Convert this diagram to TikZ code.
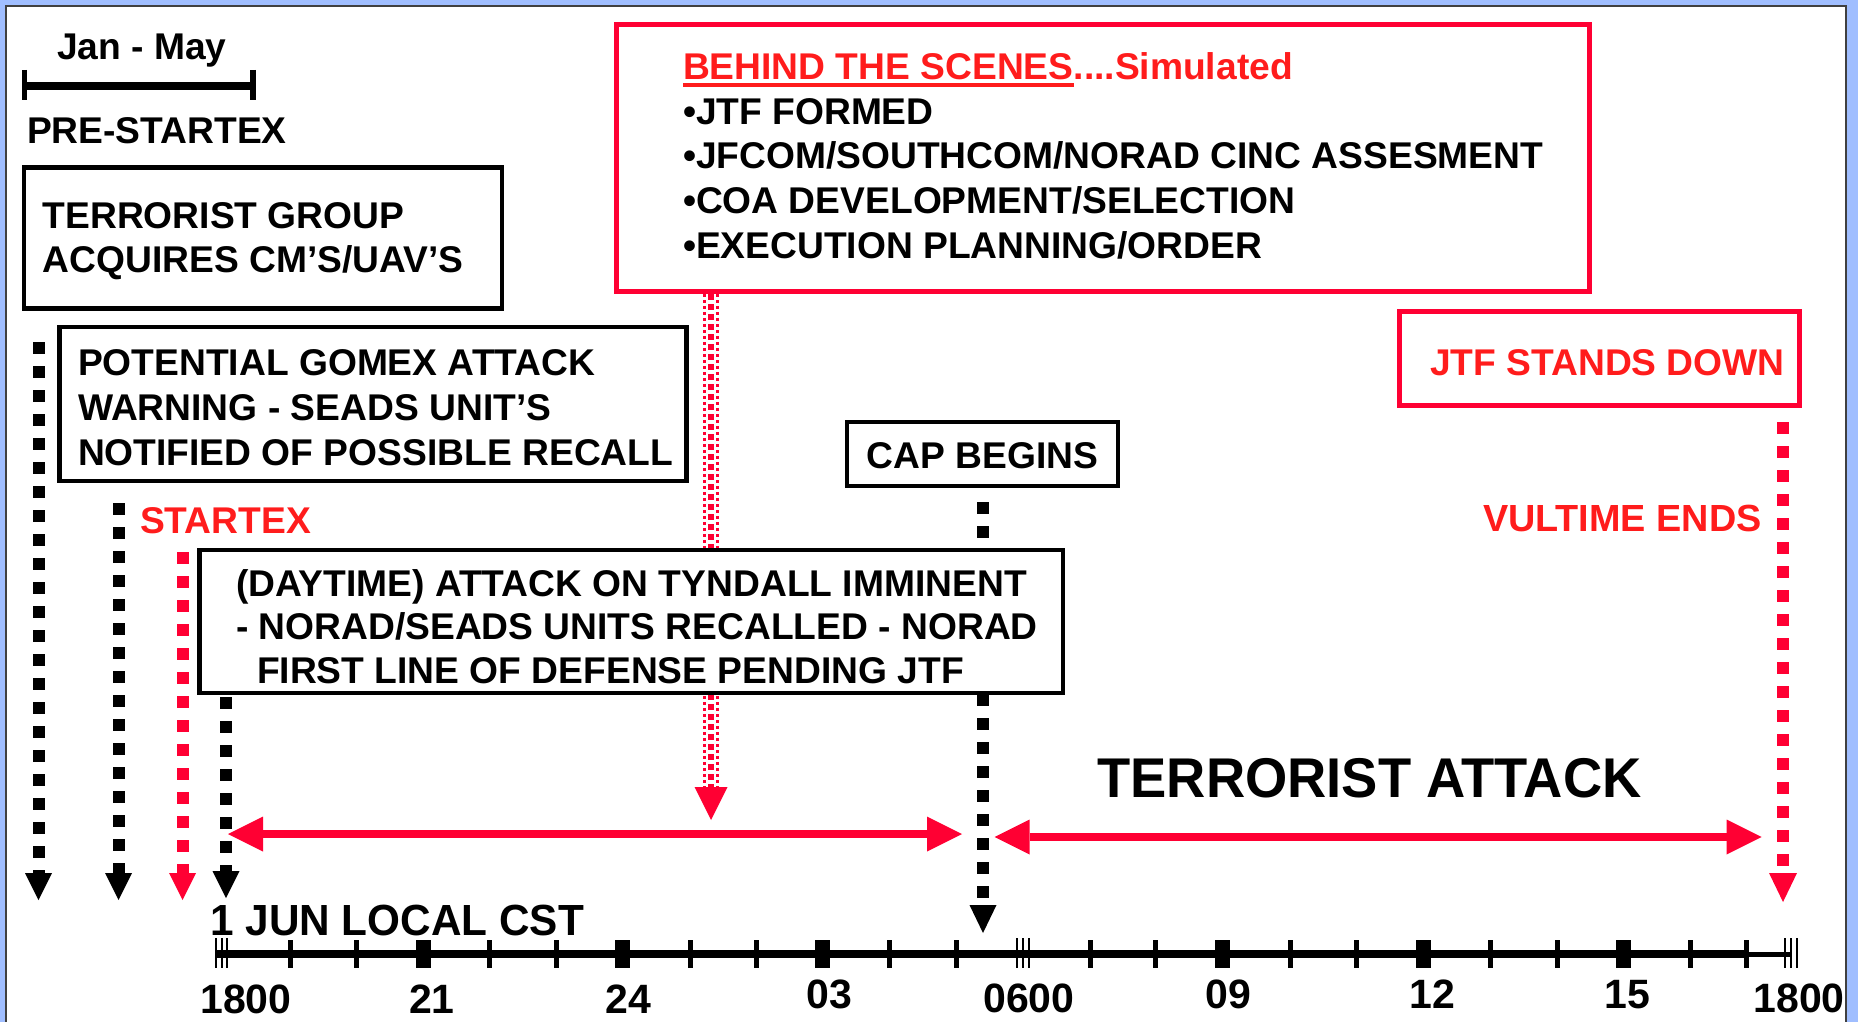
\documentclass[tikz,border=0pt]{standalone}
\usepackage{fontspec}
\usepackage{graphicx}
\setmainfont{Liberation Sans}
\usetikzlibrary{calc}
\definecolor{bluebg}{RGB}{160,190,255}
\definecolor{redline}{RGB}{255,0,51}
\definecolor{redtxt}{RGB}{255,28,28}
\begin{document}
\begin{tikzpicture}[x=0.5pt,y=-0.5pt,
  lbl/.style={inner sep=0pt, outer sep=0pt, anchor=base west, font=\bfseries\fontsize{18.6}{22}\selectfont},
  rlbl/.style={lbl, text=redtxt},
  num/.style={inner sep=0pt, anchor=base, font=\bfseries\fontsize{20.5}{24}\selectfont},
  blkbox/.style={draw=black, line width=2.25pt, fill=white, inner sep=0pt, outer sep=0pt},
  redbox/.style={draw=redline, line width=2.5pt, fill=white, inner sep=0pt, outer sep=0pt},
  dotk/.style={line width=6pt, dash pattern=on 6pt off 6pt, black},
  dotr/.style={line width=6pt, dash pattern=on 6pt off 6pt, redline},
  redarr/.style={line width=3.75pt, redline}
]
\useasboundingbox (0,0) rectangle (1858,1022);
% frame
\fill[bluebg] (0,0) rectangle (1858,1022);
\fill[white] (6,6) rectangle (1846,1022);
\draw[line width=0.9pt, black!75] (6,1022) -- (6,6) -- (1846,6) -- (1846,1022);

% Jan - May bar
\coordinate (jb0) at (24.5,86);
\coordinate (jb1) at (253,86);
\draw[line width=4pt] (jb0) -- (jb1);
\draw[line width=2.75pt] ($(jb0)+(0,-16)$) -- ($(jb0)+(0,14)$);
\draw[line width=2.75pt] ($(jb1)+(0,-16)$) -- ($(jb1)+(0,14)$);

% left dotted arrows
\foreach \n/\x/\ys/\yt/\c in {a1/38.5/342/900/black, a2/118.6/503/900/black, a3/182.6/552/900/redline, a4/226/697/898/black}{
  \coordinate (\n s) at (\x,\ys);
  \coordinate (\n t) at (\x,\yt);
  \coordinate (\n b) at ($(\n t)+(0,-27)$);
  \draw[line width=6pt, dash pattern=on 6pt off 6pt, \c] (\n s) -- (\n b);
  \fill[\c] ($(\n b)+(-13.5,0)$) -- (\n t) -- ($(\n b)+(13.5,0)$) -- cycle;
}

% CAP dotted arrow
\coordinate (cps) at (983,502);
\coordinate (cpt) at (983,933);
\coordinate (cpb) at (983,905);
\draw[dotk] (cps) -- (cpb);
\fill[black] ($(cpb)+(-13.5,0)$) -- (cpt) -- ($(cpb)+(13.5,0)$) -- cycle;

% VULTIME dotted arrow
\coordinate (vls) at (1783,422);
\coordinate (vlt) at (1783,902);
\coordinate (vlb) at (1783,873);
\draw[dotr] (vls) -- (vlb);
\fill[redline] ($(vlb)+(-14,0)$) -- (vlt) -- ($(vlb)+(14,0)$) -- cycle;

% behind-the-scenes double dotted arrow
\coordinate (bhs) at (711,294);
\coordinate (bht) at (711,820);
\coordinate (bhb) at (711,787);
\draw[redline, line width=1.25pt, dash pattern=on 1.5pt off 1.5pt] ($(bhs)+(-6.5,0)$) -- ($(bhb)+(-6.5,0)$);
\draw[redline, line width=1.25pt, dash pattern=on 1.5pt off 1.5pt] ($(bhs)+(6.5,0)$) -- ($(bhb)+(6.5,0)$);
\draw[redline, line width=3pt, dash pattern=on 3pt off 2pt] (bhs) -- (bhb);
\fill[redline] ($(bhb)+(-16.5,0)$) -- (bht) -- ($(bhb)+(16.5,0)$) -- cycle;

% horizontal red double arrows
\coordinate (h1l) at (228,834);
\coordinate (h1r) at (962,834);
\draw[redarr] ($(h1l)+(35,0)$) -- ($(h1r)+(-35,0)$);
\fill[redline] (h1l) -- ($(h1l)+(35,-17.5)$) -- ($(h1l)+(35,17.5)$) -- cycle;
\fill[redline] (h1r) -- ($(h1r)+(-35,-17.5)$) -- ($(h1r)+(-35,17.5)$) -- cycle;
\coordinate (h2l) at (994.7,837);
\coordinate (h2r) at (1761.5,837);
\draw[redarr] ($(h2l)+(35,0)$) -- ($(h2r)+(-35,0)$);
\fill[redline] (h2l) -- ($(h2l)+(35,-17.5)$) -- ($(h2l)+(35,17.5)$) -- cycle;
\fill[redline] (h2r) -- ($(h2r)+(-35,-17.5)$) -- ($(h2r)+(-35,17.5)$) -- cycle;

% time axis
\coordinate (ax0) at (216,954);
\coordinate (ax17) at (1746,954);
\coordinate (axe) at (1791,954);
\draw[line width=4pt] (ax0) -- (ax17);
\draw[line width=2.5pt] (ax17) -- (axe);
\foreach \x in {290,356.7,489,556.7,690,756.7,889.5,956,1090,1155,1290,1356,1490,1557,1690,1746}
  \draw[line width=2.5pt] (\x,940) -- (\x,968);
\foreach \x in {423.3,622.6,822.5,1222.6,1423,1623}
  \fill (\x-7.5,940) rectangle (\x+7.5,968);
\foreach \x in {216,221.5,227,1016.7,1022.7,1029.3,1785,1791,1797}
  \draw[line width=1pt] (\x,938) -- (\x,968);

% boxes
\node[blkbox, minimum width=239pt, minimum height=70.6pt] (b1) at (262.9,237.9) {};
\node[blkbox, minimum width=313.4pt, minimum height=76.8pt] (b2) at (373,404) {};
\node[blkbox, minimum width=431.6pt, minimum height=71.3pt] (b3) at (631.2,621.5) {};
\node[blkbox, minimum width=135.3pt, minimum height=31.8pt] (b4) at (982.5,454) {};
\node[redbox, minimum width=486.3pt, minimum height=133.4pt] (b5) at (1102.85,157.6) {};
\node[redbox, minimum width=200pt, minimum height=47pt] (b6) at (1599.5,358.5) {};

% texts
\node[lbl] (jm) at (57,60) {Jan - May};
\node[lbl] (pre) at (27,143) {PRE-STARTEX};
\node[lbl] (t1a) at (42.7,228) {TERRORIST GROUP};
\node[lbl] (t1b) at (42.7,272) {ACQUIRES CM’S/UAV’S};
\node[lbl] (t2a) at (78,375) {POTENTIAL GOMEX ATTACK};
\node[lbl] (t2b) at (78,420) {WARNING - SEADS UNIT’S};
\node[lbl] (t2c) at (78,465) {NOTIFIED OF POSSIBLE RECALL};
\node[rlbl] (stx) at (140,533) {STARTEX};
\node[lbl] (t3a) at (236,596) {(DAYTIME) ATTACK ON TYNDALL IMMINENT};
\node[lbl] (t3b) at (236,639) {- NORAD/SEADS UNITS RECALLED - NORAD};
\node[lbl] (t3c) at (257,683) {FIRST LINE OF DEFENSE PENDING JTF};
\node[lbl] (cap) at (866.7,468) {CAP BEGINS};
\node[rlbl] (bhA) at (683,80) {BEHIND THE SCENES};
\node[rlbl] (bhB) at (bhA.base east) {....Simulated};
\draw[redtxt, line width=2pt] ([yshift=-2.6pt]bhA.base west) -- ([yshift=-2.6pt]bhA.base east);
\node[lbl] (bl1) at (683,124.5) {•JTF FORMED};
\node[lbl] (bl2) at (683,169) {•JFCOM/SOUTHCOM/NORAD CINC ASSESMENT};
\node[lbl] (bl3) at (683,213.5) {•COA DEVELOPMENT/SELECTION};
\node[lbl] (bl4) at (683,258) {•EXECUTION PLANNING/ORDER};
\node[rlbl] (jtf) at (1430,375) {JTF STANDS DOWN};
\node[rlbl, font=\bfseries\fontsize{18.9}{22}\selectfont] (vul) at (1483,531.7) {VULTIME ENDS};
\node[inner sep=0pt, anchor=base west, font=\bfseries\fontsize{21.8}{26}\selectfont] (jun) at (210,935) {\scalebox{0.97}[1]{1 JUN LOCAL CST}};
\node[inner sep=0pt, anchor=base west, font=\bfseries\fontsize{28}{32}\selectfont] (ta) at (1097,797) {\scalebox{0.97}[1]{TERRORIST ATTACK}};

\node[num] (n1) at (246,1013) {1800};
\node[num] (n2) at (432,1013) {21};
\node[num] (n3) at (628,1013) {24};
\node[num] (n4) at (829,1008) {03};
\node[num] (n5) at (1029,1012) {0600};
\node[num] (n6) at (1228,1008) {09};
\node[num] (n7) at (1432,1008) {12};
\node[num] (n8) at (1627,1008) {15};
\node[num] (n9) at (1799,1012) {1800};
\end{tikzpicture}
\end{document}
